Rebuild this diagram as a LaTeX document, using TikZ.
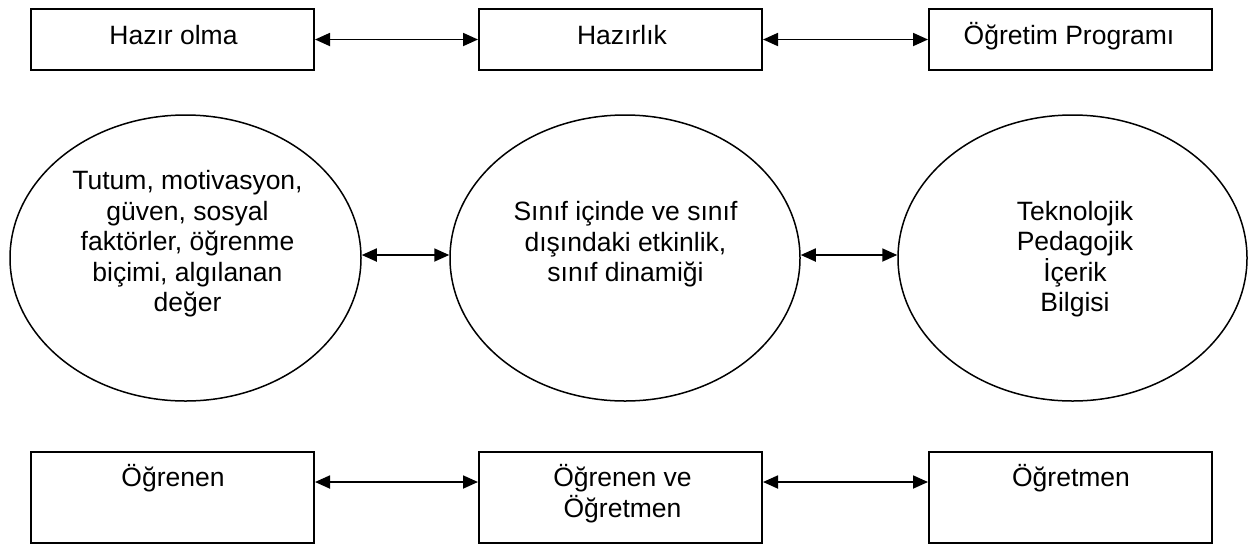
\documentclass[tikz,border=0pt]{standalone}
\usepackage{fontspec}
\setmainfont{Liberation Sans}
\usetikzlibrary{arrows.meta,shapes.geometric}
\begin{document}
\begin{tikzpicture}[x=1pt,y=-1pt,
  boxnode/.style={draw, line width=2pt, rectangle, inner sep=0pt, minimum width=283pt},
  ovalnode/.style={draw, line width=1.5pt, ellipse, inner sep=0pt, minimum height=286pt},
  txt/.style={inner sep=0pt, anchor=base, align=center, font=\fontsize{26.5pt}{30.5pt}\selectfont},
  biarrow/.style={line width=1.8pt, >={Triangle[length=15pt,width=13pt]}, <->}]
\useasboundingbox (0,0) rectangle (1257,547);
% top row
\node[boxnode, minimum height=61pt] (hb1) at (172.5,39.5) {};
\node[boxnode, minimum height=61pt] (hb2) at (620.5,39.5) {};
\node[boxnode, minimum height=61pt] (hb3) at (1070.5,39.5) {};
\node[txt] (ht1) at (173.5,44.3) {Hazır olma};
\node[txt] (ht2) at (622,44.3) {Hazırlık};
\node[txt] (ht3) at (1069,44.3) {Öğretim Programı};
% middle row
\node[ovalnode, minimum width=351pt] (e1) at (185.5,258) {};
\node[ovalnode, minimum width=350pt] (e2) at (625,258) {};
\node[ovalnode, minimum width=349pt] (e3) at (1072.5,258) {};
\node[txt] (et1) at (187.5,311.7) {Tutum, motivasyon,\\güven, sosyal\\faktörler, öğrenme\\biçimi, algılanan\\değer};
\node[txt] (et2) at (625.5,281.7) {Sınıf içinde ve sınıf\\dışındaki etkinlik,\\sınıf dinamiği};
\node[txt] (et3) at (1075,311.7) {Teknolojik\\Pedagojik\\İçerik\\Bilgisi};
% bottom row
\node[boxnode, minimum height=91pt] (bb1) at (172.5,497.5) {};
\node[boxnode, minimum height=91pt] (bb2) at (620.5,497.5) {};
\node[boxnode, minimum height=91pt] (bb3) at (1070.5,497.5) {};
\node[txt] (bt1) at (173,486) {Öğrenen};
\node[txt] (bt2) at (622.5,517) {Öğrenen ve\\Öğretmen};
\node[txt] (bt3) at (1071,486) {Öğretmen};
% connectors
\draw[biarrow] (hb1.east) -- (hb2.west);
\draw[biarrow] (hb2.east) -- (hb3.west);
\draw[biarrow] ([yshift=3pt]e1.east) -- ([yshift=3pt]e2.west);
\draw[biarrow] ([yshift=3pt]e2.east) -- ([yshift=3pt]e3.west);
\draw[biarrow] ([yshift=15.5pt]bb1.east) -- ([yshift=15.5pt]bb2.west);
\draw[biarrow] ([yshift=15.5pt]bb2.east) -- ([yshift=15.5pt]bb3.west);
\end{tikzpicture}
\end{document}
